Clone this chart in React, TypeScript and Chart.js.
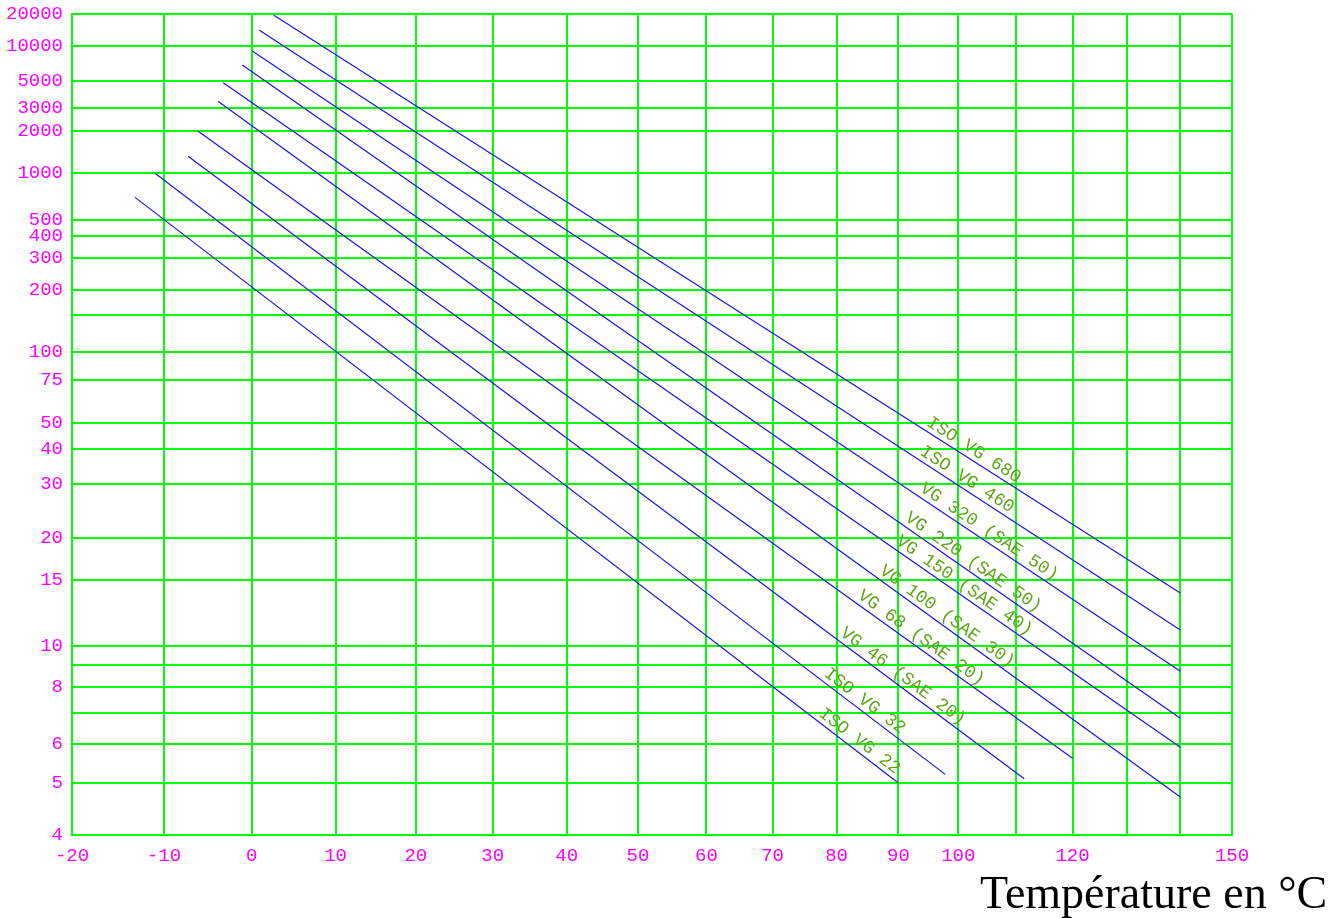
import React, { useEffect, useRef } from 'react';
import { Chart, registerables } from 'chart.js';

Chart.register(...registerables);

// Grades (one straight line per oil grade on the ASTM viscosity-temperature chart)
const gradeLabels = [
  'ISO VG 22',
  'ISO VG 32',
  'VG 46 (SAE 20)',
  'VG 68 (SAE 20)',
  'VG 100 (SAE 30)',
  'VG 150 (SAE 40)',
  'VG 220 (SAE 50)',
  'VG 320 (SAE 50)',
  'ISO VG 460',
  'ISO VG 680',
];
// start / end points of each line (temperature °C, viscosity cSt)
const startTemps = [-13.2, -11.0, -7.3, -6.2, -3.9, -3.3, -1.1, 0.1, 0.9, 2.6];
const startVisc = [693, 1000, 1310, 2000, 3400, 4800, 6800, 9000, 14000, 19500];
const endTemps = [90, 97.8, 111.4, 120, 140, 140, 140, 140, 140, 140];
const endVisc = [5.0, 5.2, 5.1, 5.6, 4.7, 5.9, 6.8, 8.7, 11.0, 13.8];
// temperature where each label begins
const labelTemps = [76.6, 77.4, 80, 82.8, 86.3, 89, 90.5, 93, 93, 94.1];

// axes
const xGridTemps = [-20, -10, 0, 10, 20, 30, 40, 50, 60, 70, 80, 90, 100, 110, 120, 130, 140, 150];
const xLabelTemps = [-20, -10, 0, 10, 20, 30, 40, 50, 60, 70, 80, 90, 100, 120, 150];
const yGridVisc = [4, 5, 6, 7, 8, 9, 10, 15, 20, 30, 40, 50, 75, 100, 150, 200, 300, 400, 500, 1000, 2000, 3000, 5000, 10000, 20000];
const yLabelVisc = [4, 5, 6, 8, 10, 15, 20, 30, 40, 50, 75, 100, 200, 300, 400, 500, 1000, 2000, 3000, 5000, 10000, 20000];
const xTitle = 'Température en °C';

// chart transforms (temperature: log scale, viscosity: ASTM log-log)
const fx = (t: number) => Math.log(t + 220);
const fy = (v: number) => Math.log10(Math.log10(v + 0.7));

const GRID = '#00ff00';
const MAGENTA = '#ff00ff';
const LINE = '#1414e6';
const LABEL = '#5fa519';

export default function App() {
  const ref = useRef<HTMLCanvasElement | null>(null);

  useEffect(() => {
    document.body.style.margin = '0';
    const canvas = ref.current;
    if (!canvas) return;

    const datasets = gradeLabels.map((name, i) => ({
      label: name,
      data: [
        { x: fx(startTemps[i]), y: fy(startVisc[i]) },
        { x: fx(endTemps[i]), y: fy(endVisc[i]) },
      ],
      borderColor: LINE,
      borderWidth: 1.2,
      pointRadius: 0,
      fill: false,
      tension: 0,
    }));

    const labelPlugin = {
      id: 'gradeLabels',
      afterDatasetsDraw(chart: any) {
        const ctx = chart.ctx;
        const xs = chart.scales.x;
        ctx.save();
        ctx.font = '18px "Liberation Mono", monospace';
        ctx.fillStyle = LABEL;
        ctx.textAlign = 'left';
        ctx.textBaseline = 'alphabetic';
        chart.data.datasets.forEach((ds: any, i: number) => {
          const meta = chart.getDatasetMeta(i);
          const p0 = meta.data[0];
          const p1 = meta.data[1];
          const ang = Math.atan2(p1.y - p0.y, p1.x - p0.x);
          const px = xs.getPixelForValue(fx(labelTemps[i]));
          const py = p0.y + ((px - p0.x) / (p1.x - p0.x)) * (p1.y - p0.y);
          ctx.save();
          ctx.translate(px, py);
          ctx.rotate(ang);
          ctx.fillText(gradeLabels[i], 0, -5);
          ctx.restore();
        });
        ctx.restore();
      },
      afterDraw(chart: any) {
        const ctx = chart.ctx;
        ctx.save();
        ctx.font = '46px "Liberation Serif", serif';
        ctx.fillStyle = '#000000';
        ctx.textAlign = 'left';
        ctx.textBaseline = 'alphabetic';
        ctx.fillText(xTitle, chart.chartArea.right - 252, 908);
        ctx.restore();
      },
    };

    const chart = new Chart(canvas, {
      type: 'line',
      data: { datasets },
      options: {
        animation: false,
        responsive: false,
        events: [],
        layout: { padding: { top: 14, right: 106, left: 0, bottom: 0 } },
        plugins: { legend: { display: false }, tooltip: { enabled: false } },
        scales: {
          x: {
            type: 'linear',
            min: fx(xGridTemps[0]),
            max: fx(xGridTemps[xGridTemps.length - 1]),
            afterBuildTicks: (s: any) => {
              s.ticks = xGridTemps.map((t) => ({ value: fx(t) }));
            },
            afterFit: (s: any) => {
              s.height = 83;
              s.paddingLeft = 0;
              s.paddingRight = 0;
            },
            ticks: {
              autoSkip: false,
              maxRotation: 0,
              minRotation: 0,
              color: MAGENTA,
              padding: 10,
              font: { family: '"Liberation Mono", monospace', size: 19 },
              callback: (_v: any, i: number) =>
                xLabelTemps.includes(xGridTemps[i]) ? String(xGridTemps[i]) : '',
            },
            grid: { color: GRID, lineWidth: 2, drawTicks: false },
            border: { color: GRID, width: 2 },
          },
          y: {
            type: 'linear',
            min: fy(yGridVisc[0]),
            max: fy(yGridVisc[yGridVisc.length - 1]),
            afterBuildTicks: (s: any) => {
              s.ticks = yGridVisc.map((v) => ({ value: fy(v) }));
            },
            afterFit: (s: any) => {
              s.width = 72;
              s.paddingTop = 0;
              s.paddingBottom = 0;
            },
            ticks: {
              autoSkip: false,
              color: MAGENTA,
              padding: 9,
              font: { family: '"Liberation Mono", monospace', size: 19 },
              callback: (_v: any, i: number) =>
                yLabelVisc.includes(yGridVisc[i]) ? String(yGridVisc[i]) : '',
            },
            grid: { color: GRID, lineWidth: 2, drawTicks: false },
            border: { color: GRID, width: 2 },
          },
        },
      },
      plugins: [labelPlugin],
    } as any);

    return () => chart.destroy();
  }, []);

  return (
    <div style={{ width: 1338, height: 918, overflow: 'hidden' }}>
      <canvas ref={ref} width={1338} height={918} style={{ display: 'block', width: 1338, height: 918 }} />
    </div>
  );
}
